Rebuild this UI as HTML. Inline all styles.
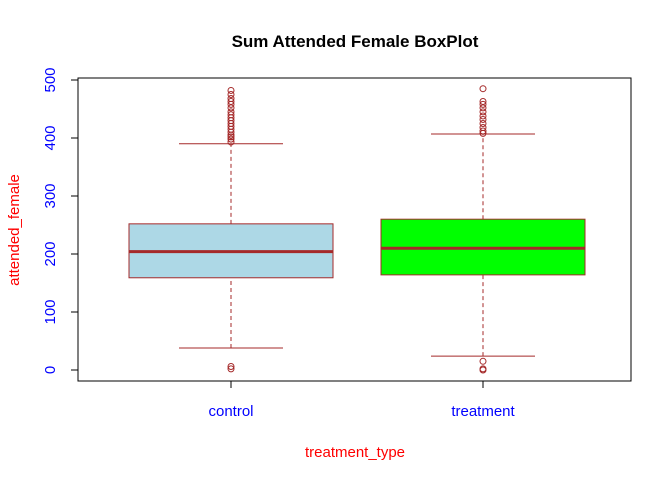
<!DOCTYPE html>
<html><head><meta charset="utf-8"><style>
body{margin:0;background:#fff}
svg{display:block;font-family:"Liberation Sans",Arial,sans-serif}
</style></head><body>
<svg id="c" width="672" height="480">
<rect width="672" height="480" fill="#fff"/>
<text x="355" y="47" text-anchor="middle" font-size="17" font-weight="bold">Sum Attended Female BoxPlot</text>
<rect x="78" y="78" width="553" height="303" fill="none" stroke="#000"/>
<text x="355" y="457" text-anchor="middle" font-size="15" fill="red">treatment_type</text>
<text transform="translate(19,230) rotate(-90)" text-anchor="middle" font-size="15" fill="red">attended_female</text>
<g id="g"></g>
</svg>
<script>
const categories=["control","treatment"];
const fills=["#add8e6","#00ff00"];
const lowerWhisker=[38,24];
const q1=[159,164];
const median=[204,210];
const q3=[252,260];
const upperWhisker=[390,407];
const outliers=[[2,6,393,398,402,405,410,415,420,425,430,435,440,445,452,458,463,468,475,482],[0,2,15,408,412,418,425,432,438,445,452,458,463,485]];
const yTicks=[0,100,200,300,400,500];
const NS="http://www.w3.org/2000/svg",g=document.getElementById("g");
const y=v=>370-v*0.58;
const x=i=>231+i*252;
const hw=102;
function el(t,a,p){const e=document.createElementNS(NS,t);for(const k in a)e.setAttribute(k,a[k]);(p||g).appendChild(e);return e;}
yTicks.forEach(t=>{
 const l=el("line",{x1:71,x2:78,y1:y(t),y2:y(t),stroke:"#000"});
 
 
 const tx=el("text",{transform:`translate(55,${y(t)}) rotate(-90)`,"text-anchor":"middle","font-size":15,fill:"blue"});
 tx.textContent=t;
 
 
});
categories.forEach((c,i)=>{
 const cx=x(i);
 const tk=el("line",{x1:cx,x2:cx,y1:381,y2:388,stroke:"#000"});
 
 
 const lb=el("text",{x:cx,y:416,"text-anchor":"middle","font-size":15,fill:"blue"});
 lb.textContent=c;
 
 
 const w=el("path",{d:`M${cx},${y(lowerWhisker[i])}V${y(q1[i])}M${cx},${y(q3[i])}V${y(upperWhisker[i])}`,stroke:"#a52a2a","stroke-dasharray":"4,3",fill:"none"});
 
 
 const caps=el("path",{d:`M${cx-52},${y(lowerWhisker[i])}H${cx+52}M${cx-52},${y(upperWhisker[i])}H${cx+52}`,stroke:"#a52a2a",fill:"none"});
 
 
 const b=el("rect",{x:cx-hw,y:y(q3[i]),width:2*hw,height:y(q1[i])-y(q3[i]),fill:fills[i],stroke:"#a52a2a"});
 
 
 const m=el("line",{x1:cx-hw,x2:cx+hw,y1:y(median[i]),y2:y(median[i]),stroke:"#a52a2a","stroke-width":3});
 
 
 outliers[i].forEach(v=>{
  const o=el("circle",{cx:cx,cy:y(v),r:3,fill:"none",stroke:"#a52a2a"});
  
  
 });
});
</script>
</body></html>
